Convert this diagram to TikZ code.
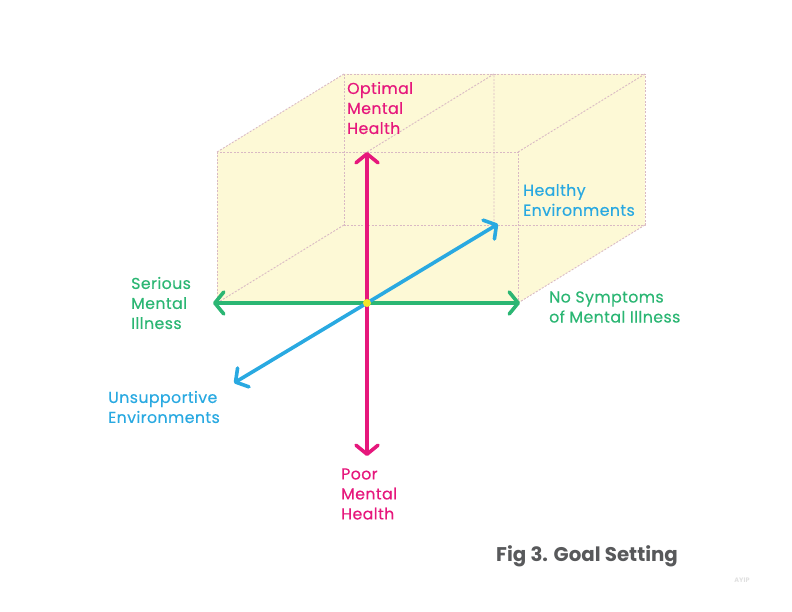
\documentclass[tikz,border=0pt]{standalone}
\usepackage{fontspec}
\setmainfont{Poppins}[FakeBold=0.35]
\newfontfamily\titlefont{Poppins}[BoldFont={* Bold}]
\usetikzlibrary{arrows.meta}
\definecolor{cpink}{HTML}{E6177C}
\definecolor{cgreen}{HTML}{2BB673}
\definecolor{cblue}{HTML}{29A9E1}
\definecolor{cfill}{HTML}{FDF9D6}
\definecolor{cedge}{HTML}{D9B9C4}
\definecolor{cdot}{HTML}{F2E62C}
\definecolor{ctitle}{HTML}{58595B}
\begin{document}
\begin{tikzpicture}[x=1pt,y=-1pt,
  edge/.style={cedge, line width=0.9pt, dash pattern=on 2pt off 1.5pt},
  axis/.style={line width=3.6pt, -{Straight Barb[length=9pt,width=22pt,round]}},
  lbl/.style={inner sep=0pt, anchor=west, align=left, font=\fontsize{15.8}{20}\selectfont\addfontfeatures{LetterSpace=2.5}}]
\useasboundingbox (0,0) rectangle (792,612);
% cube corners
\coordinate (FTL) at (217,152); \coordinate (FTR) at (518,152);
\coordinate (FBL) at (217,303); \coordinate (FBR) at (518,303);
\coordinate (BTL) at (344,74);  \coordinate (BTR) at (645,74);
\coordinate (BBL) at (344,225); \coordinate (BBR) at (645,225);
\coordinate (MFT) at (367,152); \coordinate (MBT) at (494,74);
\coordinate (MBB) at (494,225);
\fill[cfill] (FBL) -- (FTL) -- (BTL) -- (BTR) -- (BBR) -- (FBR) -- cycle;
% edges
\draw[edge] (FTL) rectangle (FBR);
\draw[edge] (BTL) rectangle (BBR);
\draw[edge] (FTL) -- (BTL) (FTR) -- (BTR) (FBL) -- (BBL) (FBR) -- (BBR);
\draw[edge] (MFT) -- (MBT) -- (MBB);
% axes
\coordinate (O) at (367,303);
\coordinate (gL) at (213,303); \coordinate (gR) at (520,303);
\coordinate (bL) at (234,383); \coordinate (bR) at (498,224);
\coordinate (pT) at (367,152); \coordinate (pB) at (367,456);
\draw[axis, cgreen] (O) -- (gL);
\draw[axis, cgreen] (O) -- (gR);
\draw[axis, cblue] (O) -- (bL);
\draw[axis, cblue] (O) -- (bR);
\draw[axis, cpink] (O) -- (pT);
\draw[axis, cpink] (O) -- (pB);
\fill[cdot] (O) circle (4);
% labels
\node[lbl, cpink] (opt) at (347,108) {Optimal\\Mental\\Health};
\node[lbl, cpink] (poor) at (341,494) {Poor\\Mental\\Health};
\node[lbl, cblue] (healthy) at (523,200) {Healthy\\Environments};
\node[lbl, cblue] (unsup) at (108,407) {Unsupportive\\Environments};
\node[lbl, cgreen] (serious) at (131,303) {Serious\\Mental\\Illness};
\node[lbl, cgreen] (nosym) at (549,307) {No Symptoms\\of Mental Illness};
\node[inner sep=0pt, anchor=west, ctitle, font=\titlefont\fontsize{19.8}{22}\selectfont\bfseries] (title) at (496,556) {Fig 3. Goal Setting};
\node[inner sep=0pt, text=black!12, font=\titlefont\fontsize{6.5}{8}\selectfont\bfseries] (ayip) at (742,580) {AYIP};
\end{tikzpicture}
\end{document}
